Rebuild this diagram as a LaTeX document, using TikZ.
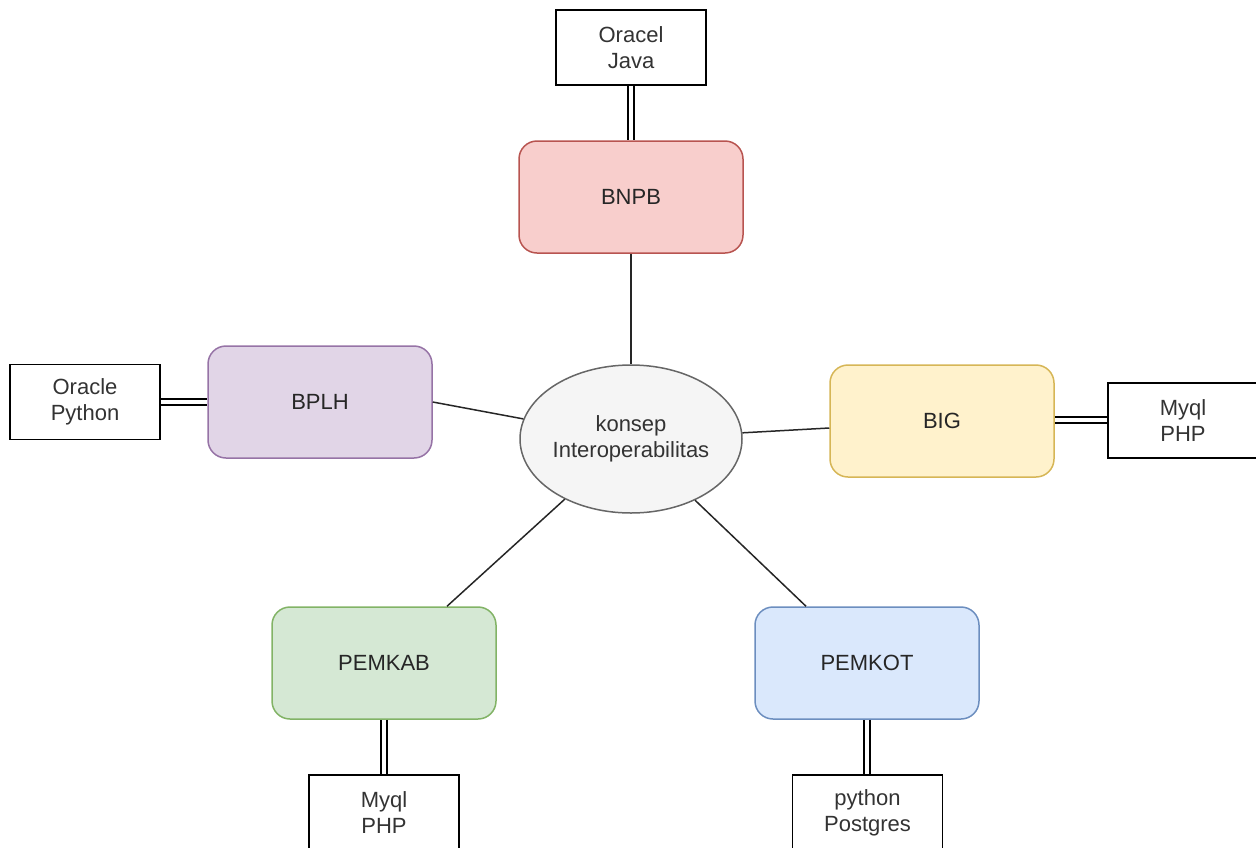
\documentclass[tikz,border=0pt]{standalone}
\usepackage{fontspec}
\setmainfont{Liberation Sans}
\usetikzlibrary{shapes.geometric}
\definecolor{redfill}{HTML}{F8CECC}\definecolor{redline}{HTML}{B85450}
\definecolor{purpfill}{HTML}{E1D5E7}\definecolor{purpline}{HTML}{9673A6}
\definecolor{yelfill}{HTML}{FFF2CC}\definecolor{yelline}{HTML}{D6B656}
\definecolor{grnfill}{HTML}{D5E8D4}\definecolor{grnline}{HTML}{82B366}
\definecolor{blufill}{HTML}{DAE8FC}\definecolor{bluline}{HTML}{6C8EBF}
\definecolor{ellfill}{HTML}{F5F5F5}\definecolor{ellline}{HTML}{666666}
\definecolor{txtgray}{HTML}{333333}
\tikzset{
  agency/.style={draw, rounded corners=18pt, line width=1.5pt, minimum width=224pt, minimum height=112pt, inner sep=0pt, align=center, font=\fontsize{22}{26}\selectfont, text=black!85},
  techbox/.style={draw=black, fill=white, line width=1.6pt, minimum width=150pt, minimum height=75pt, inner sep=0pt, align=center, font=\fontsize{22}{26}\selectfont, text=txtgray},
  link/.style={draw=black, double=white, double distance=4pt, line width=1.7pt},
  conn/.style={draw=black!85, line width=1.5pt}
}
\begin{document}
\begin{tikzpicture}[x=1pt,y=-1pt]
\useasboundingbox (0,0) rectangle (1256,847);
\node[agency, fill=redfill, draw=redline] (bnpb) at (631,197) {BNPB};
\node[agency, fill=purpfill, draw=purpline] (bplh) at (320,402) {BPLH};
\node[agency, fill=yelfill, draw=yelline] (big) at (942,421) {BIG};
\node[agency, fill=grnfill, draw=grnline] (pemkab) at (384,663) {PEMKAB};
\node[agency, fill=blufill, draw=bluline] (pemkot) at (867,663) {PEMKOT};
\node[draw=ellline, fill=ellfill, ellipse, line width=1.5pt, minimum width=222pt, minimum height=148pt, inner sep=0pt, align=center, font=\fontsize{22}{26}\selectfont, text=txtgray] (ell) at (631,439) {konsep\\Interoperabilitas};
\node[techbox] (java) at (631,47.5) {Oracel\\Java};
\node[techbox] (py) at (85,402) {Oracle\\Python};
\node[techbox] (php1) at (1183,420.5) {Myql\\PHP};
\node[techbox] (php2) at (384,812.5) {Myql\\PHP};
\node[techbox] (pg) at (867.5,812.5) {python\\Postgres};
\draw[conn] (bnpb) -- (ell);
\draw[conn] (bplh.east) -- (ell);
\draw[conn] ([yshift=-7pt]big.west) -- (ell);
\draw[conn] ([xshift=63pt]pemkab.north) -- (ell);
\draw[conn] ([xshift=-61pt]pemkot.north) -- (ell);
\draw[link] (java.south) -- (bnpb.north);
\draw[link] (py.east) -- (bplh.west);
\draw[link] ([yshift=1pt]big.east) -- ([yshift=1pt]big.east -| php1.west);
\draw[link] (pemkab.south) -- (php2.north);
\draw[link] (pemkot.south) -- (pemkot.south |- pg.north);
\end{tikzpicture}
\end{document}
